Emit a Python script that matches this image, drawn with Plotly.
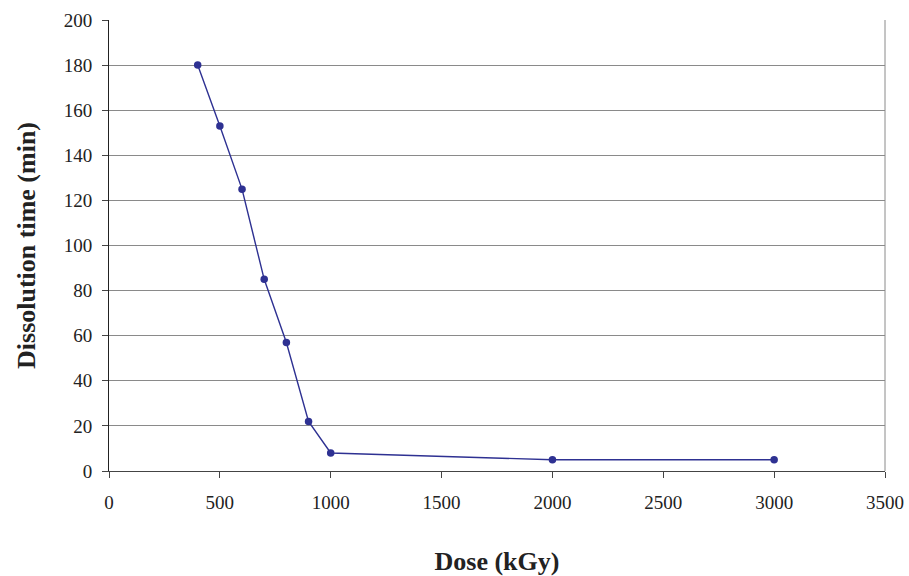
import plotly.graph_objects as go

dose_kgy = [400, 500, 600, 700, 800, 900, 1000, 2000, 3000]
dissolution_min = [180, 153, 125, 85, 57, 22, 8, 5, 5]

x_ticks = [0, 500, 1000, 1500, 2000, 2500, 3000, 3500]
y_ticks = [0, 20, 40, 60, 80, 100, 120, 140, 160, 180, 200]

fig = go.Figure()
fig.add_trace(go.Scatter(
    x=dose_kgy, y=dissolution_min, mode="lines+markers",
    line=dict(color="#2E3192", width=1.4),
    marker=dict(color="#2E3192", size=7.5),
    showlegend=False,
))

font_family = "Liberation Serif"
fig.update_layout(
    width=909, height=576,
    margin=dict(l=109, r=24, t=20, b=105),
    paper_bgcolor="white", plot_bgcolor="white",
    font=dict(family=font_family, color="#222", size=19),
    xaxis=dict(
        range=[0, 3500], tickvals=x_ticks, ticktext=[str(v) for v in x_ticks],
        showgrid=False, zeroline=False, automargin=False,
        showline=True, linecolor="#444", linewidth=1, mirror=False,
        ticks="outside", ticklen=6, tickcolor="#444", ticklabelstandoff=8,
        tickfont=dict(size=19, family=font_family),
        title=dict(text="<b>Dose (kGy)</b>", font=dict(size=26, family=font_family), standoff=42),
    ),
    yaxis=dict(
        range=[0, 200], tickvals=y_ticks, ticktext=[str(v) for v in y_ticks],
        showgrid=True, gridcolor="#8a8a8a", gridwidth=1, zeroline=False, automargin=False,
        showline=True, linecolor="#222", linewidth=1,
        ticks="outside", ticklen=6, tickcolor="#444", ticklabelstandoff=6,
        tickfont=dict(size=19, family=font_family),
        title=dict(text="<b>Dissolution time (min)</b>", font=dict(size=26, family=font_family), standoff=20),
    ),
)
# right border of plot area
fig.add_shape(type="line", xref="paper", yref="paper", x0=1, x1=1, y0=0, y1=1,
              line=dict(color="#8a8a8a", width=1))

fig.write_html("out.html", config={"displayModeBar": False},
               post_script="document.body.style.margin='0';document.body.style.overflow='hidden';")
